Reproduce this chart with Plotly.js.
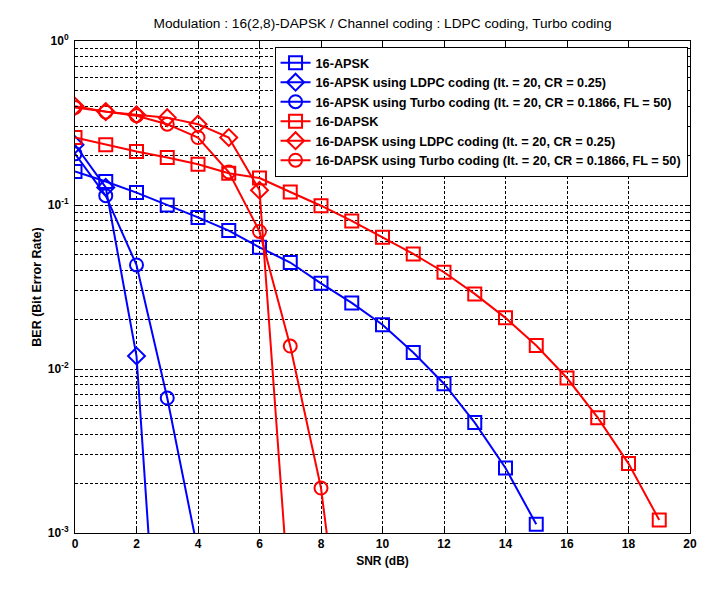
<!DOCTYPE html>
<html>
<head>
<meta charset="utf-8">
<script src="https://cdn.plot.ly/plotly-3.0.1.min.js"></script>
<style>html,body{margin:0;padding:0;background:#fff;}#chart{width:712px;height:593px;}</style>
</head>
<body>
<div id="chart"></div>
<script>
// SNR values (dB)
const snrApsk = [0,1,2,3,4,5,6,7,8,9,10,11,12,13,14,15];
const berApsk = [0.160,0.139,0.119,0.100,0.084,0.0698,0.0552,0.0446,0.0333,0.0253,0.0186,0.0126,0.00813,0.00471,0.00249,0.00113];

const snrApskLdpc = [0,1,2,3];
const berApskLdpc = [0.233,0.128,0.0120,0.00002];

const snrApskTurbo = [0,1,2,3,4];
const berApskTurbo = [0.205,0.114,0.0431,0.00665,0.00077];

const snrDapsk = [0,1,2,3,4,5,6,7,8,9,10,11,12,13,14,15,16,17,18,19];
const berDapsk = [0.258,0.233,0.212,0.195,0.177,0.156,0.146,0.120,0.099,0.080,0.0635,0.0503,0.0389,0.0287,0.0205,0.0139,0.00881,0.00505,0.00265,0.00120];

const snrDapskLdpc = [0,1,2,3,4,5,6,7];
const berDapskLdpc = [0.400,0.371,0.355,0.341,0.311,0.258,0.123,0.00032];

const snrDapskTurbo = [0,1,2,3,4,5,6,7,8,9];
const berDapskTurbo = [0.393,0.369,0.350,0.311,0.258,0.159,0.069,0.0138,0.00188,0.000063];

const xTicks = [0,2,4,6,8,10,12,14,16,18,20];
const yTickVals = [0.001,0.01,0.1,1];
const yTickText = ['10<sup>-3</sup>','10<sup>-2</sup>','10<sup>-1</sup>','10<sup>0</sup>'];
const yMinorVals = [0.002,0.003,0.004,0.005,0.006,0.007,0.008,0.009,
                    0.02,0.03,0.04,0.05,0.06,0.07,0.08,0.09,
                    0.2,0.3,0.4,0.5,0.6,0.7,0.8,0.9];
const names = [
  '16-APSK',
  '16-APSK using LDPC coding (It. = 20, CR = 0.25)',
  '16-APSK using Turbo coding (It. = 20, CR = 0.1866, FL = 50)',
  '16-DAPSK',
  '16-DAPSK using LDPC coding (It. = 20, CR = 0.25)',
  '16-DAPSK using Turbo coding (It. = 20, CR = 0.1866, FL = 50)'
];

const BLUE = '#0000ff', RED = '#ff0000';
function tr(x, y, name, color, symbol) {
  return {
    x: x, y: y, name: name, type: 'scatter', mode: 'lines+markers',
    line: {color: color, width: 2},
    marker: {symbol: symbol, size: 13, color: color, line: {color: color, width: 2}},
    cliponaxis: true
  };
}
const data = [
  tr(snrApsk, berApsk, names[0], BLUE, 'square-open'),
  tr(snrApskLdpc, berApskLdpc, names[1], BLUE, 'diamond-open'),
  tr(snrApskTurbo, berApskTurbo, names[2], BLUE, 'circle-open'),
  tr(snrDapsk, berDapsk, names[3], RED, 'square-open'),
  tr(snrDapskLdpc, berDapskLdpc, names[4], RED, 'diamond-open'),
  tr(snrDapskTurbo, berDapskTurbo, names[5], RED, 'circle-open')
];

const FAM = 'Liberation Sans, Arial, sans-serif';
const fontB = {family: FAM, size: 12, color: '#000', weight: 'bold'};
const gridDash = '3px,2px';
const layout = {
  width: 712, height: 593,
  margin: {l: 75, r: 22, t: 41, b: 60},
  paper_bgcolor: '#fff', plot_bgcolor: '#fff',
  showlegend: true,
  title: {
    text: 'Modulation : 16(2,8)-DAPSK / Channel coding : LDPC coding, Turbo coding',
    font: {family: FAM, size: 13.7, color: '#000'},
    x: 0.5, xref: 'paper', xanchor: 'center', y: 1, yref: 'container', yanchor: 'top', pad: {t: 18}
  },
  xaxis: {
    range: [0, 20], tickmode: 'array', tickvals: xTicks, ticktext: xTicks.map(String),
    ticks: 'inside', ticklen: 5, tickcolor: '#000',
    showline: true, linecolor: '#000', linewidth: 1, mirror: 'allticks',
    showgrid: true, gridcolor: '#000', gridwidth: 1, griddash: gridDash,
    zeroline: false, tickfont: fontB,
    title: {text: 'SNR (dB)', font: fontB, standoff: 6}
  },
  yaxis: {
    type: 'log', range: [-3, 0], tickmode: 'array', tickvals: yTickVals, ticktext: yTickText,
    ticks: 'inside', ticklen: 5, tickcolor: '#000',
    showline: true, linecolor: '#000', linewidth: 1, mirror: 'allticks',
    showgrid: true, gridcolor: '#000', gridwidth: 1, griddash: gridDash,
    minor: {tickmode: 'array', tickvals: yMinorVals, ticks: 'inside', ticklen: 3, tickcolor: '#000',
            showgrid: true, gridcolor: '#000', gridwidth: 1, griddash: gridDash},
    zeroline: false, tickfont: fontB, ticklabelstandoff: 3,
    title: {text: 'BER (Bit Error Rate)', font: {family: FAM, size: 12.5, color: '#000', weight: 'bold'}, standoff: 3}
  },
  legend: {
    x: 0.996, xanchor: 'right', y: 0.988, yanchor: 'top',
    bgcolor: '#fff', bordercolor: '#000', borderwidth: 1,
    font: {family: FAM, size: 12.7, color: '#000', weight: 'bold'},
    tracegroupgap: 0, itemwidth: 30
  }
};
Plotly.newPlot('chart', data, layout, {displayModeBar: false, staticPlot: true});
</script>
</body>
</html>
